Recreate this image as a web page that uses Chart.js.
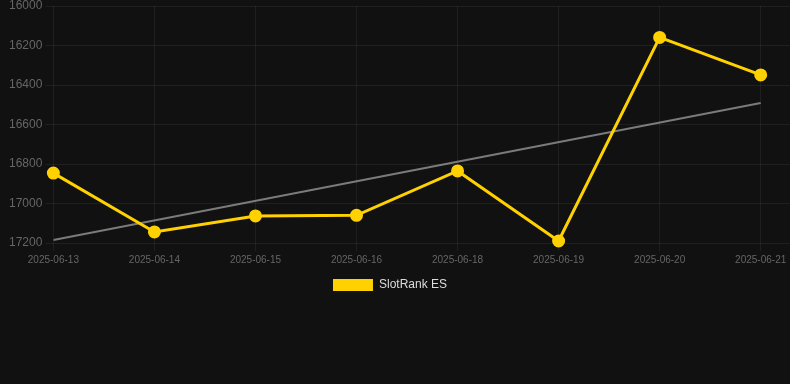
<!DOCTYPE html>
<html>
<head>
<meta charset="utf-8">
<script src="https://cdn.jsdelivr.net/npm/chart.js@4"></script>
<style>
  html, body { margin: 0; padding: 0; background: #111111; }
  #wrap { width: 790px; height: 384px; }
</style>
</head>
<body>
<div id="wrap"><canvas id="rank-chart"></canvas></div>
<script>
var date_labels = ['2025-06-13', '2025-06-14', '2025-06-15', '2025-06-16', '2025-06-18', '2025-06-19', '2025-06-20', '2025-06-21'];
var rank_data = [16846, 17144, 17063, 17060, 16835, 17190, 16159, 16349];
// trend line, only the two ends
var trend_data = [17185, null, null, null, null, null, null, 16491];
var y_ticks = [16000, 16200, 16400, 16600, 16800, 17000, 17200];

function toPoints(values) {
    return values.map(function (v, i) { return { x: i, y: v }; });
}

var gridColor = 'rgba(255, 255, 255, 0.06)';
var fontFamily = 'Liberation Sans, Arial, sans-serif';

// nudge the legend a bit to the left, like the original
var legendShift = {
    id: 'legendShift',
    afterLayout: function (chart) {
        if (chart.legend) {
            chart.legend.left -= 8;
            chart.legend.right -= 8;
        }
    }
};

var rankChart = new Chart(document.getElementById('rank-chart'), {
    type: 'line',
    data: {
        datasets: [
            {
                label: 'SlotRank ES',
                data: toPoints(rank_data),
                borderColor: '#FFD100',
                backgroundColor: '#FFD100',
                pointBackgroundColor: '#FFD100',
                pointBorderColor: '#FFD100',
                borderWidth: 3,
                pointRadius: 5,
                tension: 0,
                clip: false
            },
            {
                label: 'trend',
                data: toPoints(trend_data),
                borderColor: 'rgba(150, 150, 150, 0.8)',
                borderWidth: 2,
                pointRadius: 0,
                spanGaps: true
            }
        ]
    },
    plugins: [legendShift],
    options: {
        responsive: true,
        maintainAspectRatio: false,
        animation: false,
        layout: {
            autoPadding: false,
            padding: { left: 6, top: 0, right: 0, bottom: 83 }
        },
        plugins: {
            legend: {
                position: 'bottom',
                labels: {
                    color: '#dddddd',
                    font: { family: fontFamily, size: 12 },
                    boxWidth: 40,
                    boxHeight: 12,
                    filter: function (item) { return item.text !== 'trend'; },
                    generateLabels: function (chart) {
                        var items = Chart.defaults.plugins.legend.labels.generateLabels(chart);
                        items.forEach(function (it) { it.lineWidth = 0; });
                        return items;
                    }
                }
            },
            tooltip: { enabled: false }
        },
        scales: {
            x: {
                type: 'linear',
                min: 0,
                max: 7.29,
                grid: { color: gridColor },
                border: { display: false },
                afterFit: function (scale) { scale.paddingRight = 0; },
                ticks: {
                    stepSize: 1,
                    includeBounds: false,
                    autoSkip: false,
                    maxRotation: 0,
                    color: '#666666',
                    font: { family: fontFamily, size: 10 },
                    callback: function (v) { return date_labels[v]; }
                }
            },
            y: {
                reverse: true,
                min: y_ticks[0],
                max: y_ticks[y_ticks.length - 1],
                grid: { color: gridColor },
                border: { display: false },
                afterFit: function (scale) { scale.paddingTop = 6; },
                ticks: {
                    stepSize: 200,
                    color: '#666666',
                    font: { family: fontFamily, size: 12 },
                    callback: function (v) { return String(v); }
                }
            }
        }
    }
});
</script>
</body>
</html>
